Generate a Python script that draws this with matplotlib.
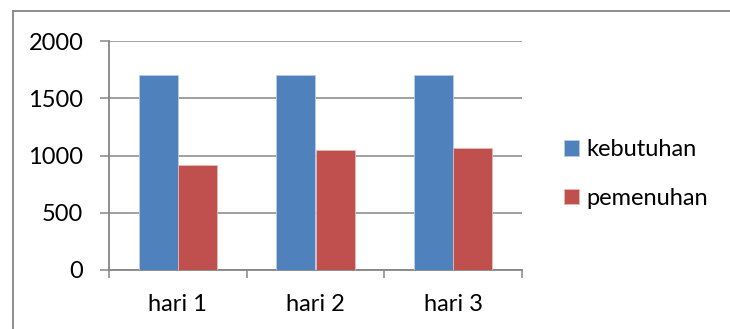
import matplotlib
matplotlib.use("Agg")
import matplotlib.pyplot as plt
import numpy as np
from matplotlib.lines import Line2D

plt.rcParams['font.family'] = ['Lato', 'DejaVu Sans']

categories = ["hari 1", "hari 2", "hari 3"]
kebutuhan = [1700, 1700, 1700]
pemenuhan = [915, 1050, 1063]
series_names = ["kebutuhan", "pemenuhan"]
colors = ["#4F81BD", "#C0504D"]
y_ticks = [0, 500, 1000, 1500, 2000]

W, H = 730, 329
FS = 17
fig = plt.figure(figsize=(W / 100, H / 100), dpi=100)

# outer chart frame (top and left edges)
grey = "#868686"
fig.add_artist(Line2D([12.5 / W, 12.5 / W], [1 - 10.5 / H, 0], color=grey, lw=1.3,
                      transform=fig.transFigure))
fig.add_artist(Line2D([12.5 / W, 1], [1 - 10.5 / H, 1 - 10.5 / H], color=grey, lw=1.3,
                      transform=fig.transFigure))

ax = fig.add_axes([109 / W, 1 - 270 / H, (522 - 109) / W, (270 - 41) / H])

x = np.arange(len(categories))
bw = 1 / 3.5
ax.bar(x - bw / 2, kebutuhan, bw, color=colors[0], edgecolor="#B9CDE5", linewidth=0.6,
       label=series_names[0], zorder=3)
ax.bar(x + bw / 2, pemenuhan, bw, color=colors[1], edgecolor="#E6B9B8", linewidth=0.6,
       label=series_names[1], zorder=3)

ax.set_xlim(-0.5, len(categories) - 0.5)
ax.set_ylim(0, 2000)
ax.set_yticks(y_ticks)
ax.set_yticklabels([str(v) for v in y_ticks])
ax.yaxis.grid(True, color=grey, lw=1.1, zorder=0)
ax.set_axisbelow(True)

for s in ["top", "right"]:
    ax.spines[s].set_visible(False)
for s in ["left", "bottom"]:
    ax.spines[s].set_color(grey)
    ax.spines[s].set_linewidth(1.3)

ax.tick_params(axis="y", direction="out", length=6.5, width=1.1, color=grey, pad=12,
               labelsize=FS, labelcolor="black")

# category labels at centres, tick marks at category boundaries
ax.set_xticks(x)
ax.set_xticklabels(categories)
ax.set_xticks(np.arange(len(categories) + 1) - 0.5, minor=True)
ax.tick_params(axis="x", which="major", length=0, pad=17, labelsize=FS, labelcolor="black")
ax.tick_params(axis="x", which="minor", direction="out", length=5.5, width=1.1, color=grey)

leg = fig.legend(loc="center left", bbox_to_anchor=(543 / W, 1 - 174 / H), frameon=False,
                 fontsize=FS, handlelength=0.62, handleheight=0.62, handletextpad=0.3,
                 labelspacing=1.15)

fig.savefig("out.png", dpi=100)
